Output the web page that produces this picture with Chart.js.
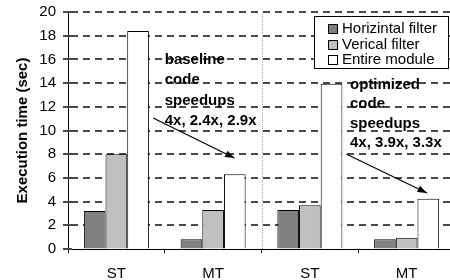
<!DOCTYPE html>
<html>
<head>
<meta charset="utf-8">
<script src="https://cdn.jsdelivr.net/npm/chart.js@4.4.1/dist/chart.umd.min.js"></script>
<style>
  html, body { margin: 0; padding: 0; background: #fff; overflow: hidden; }
  #wrap { width: 450px; height: 280px; overflow: hidden; }
</style>
</head>
<body>
<div id="wrap"><canvas id="chart" width="460" height="280"></canvas></div>
<script>
// data
const categories = ['ST', 'MT', 'ST', 'MT'];
const seriesNames = ['Horizintal filter', 'Verical filter', 'Entire module'];
const horizontalFilter = [3.2, 0.82, 3.3, 0.83];
const verticalFilter = [8.0, 3.3, 3.7, 0.95];
const entireModule = [18.4, 6.3, 13.95, 4.25];
const yMax = 20;
const yStep = 2;

// notes, in data space (x = category index, y = seconds)
const baselineNote = ['baseline', 'code', 'speedups', '4x, 2.4x, 2.9x'];
const optimizedNote = ['optimized', 'code', 'speedups', '4x, 3.9x, 3.3x'];
const notes = [
    { lines: baselineNote, x: 0.5, y: 16.0, step: 1.73 },
    { lines: optimizedNote, x: 2.415, y: 13.85, step: 1.63 }
];
const arrows = [
    { from: [0.38, 11.05], to: [1.22, 7.68] },
    { from: [2.38, 8.0], to: [3.21, 4.73] }
];

const FONT = '"Liberation Sans", Arial, sans-serif';
const colors = ['#808080', '#c0c0c0', '#ffffff'];

const overlay = {
    id: 'overlay',
    beforeDatasetsDraw(chart) {
        const { ctx, chartArea, scales: { x, y } } = chart;
        ctx.save();
        // dashed horizontal grid, behind the bars (dashes as small rects)
        ctx.fillStyle = '#4a4a4a';
        y.ticks.forEach(t => {
            const py = Math.round(y.getPixelForValue(t.value));
            // tick mark across the axis
            ctx.fillRect(chartArea.left - 5, py - 1, 9, 2);
            if (t.value <= 0) return;
            for (let px = chartArea.left + 3; px < chartArea.right; px += 12) {
                ctx.fillRect(px, py - 1, Math.min(7, chartArea.right - px), 2);
            }
        });
        // dotted separator between the two halves
        const sx = Math.round((x.getPixelForValue(1) + x.getPixelForValue(2)) / 2) + 0.5;
        ctx.strokeStyle = '#a0a0a0';
        ctx.lineWidth = 1;
        ctx.setLineDash([1, 1]);
        ctx.beginPath();
        ctx.moveTo(sx, chartArea.top);
        ctx.lineTo(sx, chartArea.bottom);
        ctx.stroke();
        ctx.restore();
    },
    afterDatasetsDraw(chart) {
        const { ctx, chartArea, scales: { x, y } } = chart;
        ctx.save();
        ctx.fillStyle = '#000';
        ctx.font = 'bold 15px ' + FONT;
        ctx.textAlign = 'left';
        ctx.textBaseline = 'middle';
        notes.forEach(n => {
            n.lines.forEach((t, i) => {
                ctx.fillText(t, x.getPixelForValue(n.x), y.getPixelForValue(n.y - i * n.step));
            });
        });

        ctx.strokeStyle = '#000';
        ctx.lineWidth = 1.2;
        arrows.forEach(a => {
            const x1 = x.getPixelForValue(a.from[0]), y1 = y.getPixelForValue(a.from[1]);
            const x2 = x.getPixelForValue(a.to[0]), y2 = y.getPixelForValue(a.to[1]);
            const ang = Math.atan2(y2 - y1, x2 - x1);
            ctx.beginPath();
            ctx.moveTo(x1, y1);
            ctx.lineTo(x2, y2);
            ctx.stroke();
            ctx.beginPath();
            ctx.moveTo(x2, y2);
            ctx.lineTo(x2 - 10 * Math.cos(ang - 0.35), y2 - 10 * Math.sin(ang - 0.35));
            ctx.lineTo(x2 - 10 * Math.cos(ang + 0.35), y2 - 10 * Math.sin(ang + 0.35));
            ctx.closePath();
            ctx.fill();
        });

        // legend box inside the plot
        ctx.lineWidth = 1;
        const bx = chartArea.right - 141, by = chartArea.top + 4;
        ctx.fillStyle = '#fff';
        ctx.fillRect(bx + 0.5, by + 0.5, 134, 52);
        ctx.strokeRect(bx + 0.5, by + 0.5, 134, 52);
        ctx.font = '15px ' + FONT;
        chart.data.datasets.forEach((ds, i) => {
            const cy = by + 12 + i * 15.5;
            ctx.fillStyle = ds.backgroundColor;
            ctx.fillRect(bx + 14.5, Math.round(cy - 4) + 0.5, 9, 9);
            ctx.strokeRect(bx + 14.5, Math.round(cy - 4) + 0.5, 9, 9);
            ctx.fillStyle = '#000';
            ctx.fillText(ds.label, bx + 28, cy + 1);
        });
        ctx.restore();
    }
};

new Chart(document.getElementById('chart').getContext('2d'), {
    type: 'bar',
    data: {
        labels: categories,
        datasets: [horizontalFilter, verticalFilter, entireModule].map((d, i) => ({
            label: seriesNames[i],
            data: d,
            backgroundColor: colors[i],
            borderColor: '#000',
            borderWidth: 1,
            categoryPercentage: 0.672,
            barPercentage: 1.0
        }))
    },
    options: {
        responsive: false,
        animation: false,
        devicePixelRatio: 1,
        layout: { padding: { top: 12, right: 5, left: 0, bottom: 0 } },
        plugins: {
            legend: { display: false },
            tooltip: { enabled: false }
        },
        scales: {
            x: {
                afterFit: s => { s.height = 31; },
                grid: {
                    offset: true,
                    drawOnChartArea: false,
                    drawTicks: true,
                    tickLength: 4,
                    tickColor: '#000',
                    color: '#000'
                },
                border: { color: '#000', width: 1 },
                ticks: {
                    color: '#000',
                    padding: 12,
                    font: { family: FONT, size: 15 }
                }
            },
            y: {
                min: 0,
                max: yMax,
                afterFit: s => { s.width = 68; s.paddingTop = 0; s.paddingBottom = 0; },
                grid: {
                    drawOnChartArea: false,
                    drawTicks: true,
                    tickLength: 5,
                    tickColor: 'rgba(0,0,0,0)'
                },
                border: { color: '#000', width: 1 },
                ticks: {
                    stepSize: yStep,
                    color: '#000',
                    padding: 7,
                    font: { family: FONT, size: 15 }
                },
                title: {
                    display: true,
                    text: 'Execution time (sec)',
                    color: '#000',
                    padding: { top: 14, bottom: 0 },
                    font: { family: FONT, size: 15, weight: 'bold' }
                }
            }
        }
    },
    plugins: [overlay]
});
</script>
</body>
</html>
